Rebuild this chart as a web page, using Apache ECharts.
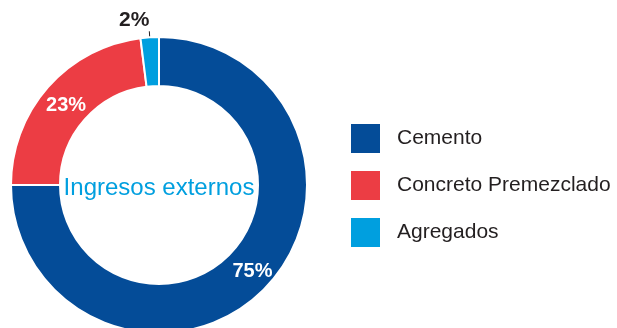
<!DOCTYPE html>
<html><head><meta charset="utf-8">
<script src="https://cdn.jsdelivr.net/npm/echarts@6/dist/echarts.min.js"></script>
<style>html,body{margin:0;padding:0;background:#fff}#c{width:617px;height:328px}</style>
</head><body><div id="c"></div>
<script>
const categories = ['Cemento', 'Concreto Premezclado', 'Agregados'];
const values = [75, 23, 2];
const colors = ['#044c98', '#ec3d44', '#009fdf'];
const centerTitle = 'Ingresos externos';

const chart = echarts.init(document.getElementById('c'), null, {renderer: 'canvas'});
const data = categories.map((n, i) => {
  const d = {name: n, value: values[i], itemStyle: {color: colors[i]}};
  if (i === 2) {
    d.label = {position: 'outside', color: '#231f20', fontSize: 21};
    d.labelLine = {show: true, length: 6, length2: 0, lineStyle: {color: '#231f20', width: 1}};
  }
  return d;
});
chart.setOption({
  animation: false,
  legend: {
    orient: 'vertical', left: 349, top: 122, padding: 0,
    itemWidth: 31, itemHeight: 31, itemGap: 14,
    icon: 'rect',
    textStyle: {fontFamily: 'Liberation Sans, Arial, sans-serif', fontSize: 21, lineHeight: 31, color: '#231f20', padding: [0, 0, 0, 11]},
    data: categories
  },
  title: {
    text: centerTitle, left: 159, top: 188, textAlign: 'center', textVerticalAlign: 'middle', padding: 0,
    textStyle: {fontFamily: 'Liberation Sans, Arial, sans-serif', fontSize: 24, fontWeight: 'normal', color: '#009fdf'}
  },
  series: [{
    type: 'pie',
    center: [159, 185],
    radius: [99, 148],
    startAngle: 90,
    clockwise: true,
    avoidLabelOverlap: false,
    itemStyle: {borderColor: '#fff', borderWidth: 2},
    label: {
      show: true, position: 'inside', formatter: '{c}%',
      fontFamily: 'Liberation Sans, Arial, sans-serif', fontSize: 20, fontWeight: 'bold', color: '#fff'
    },
    labelLine: {show: false},
    labelLayout: function (p) {
      if (p.dataIndex === 2) return {dy: -11, dx: 5};
      if (p.dataIndex === 0) return {dx: 4, dy: -3};
      if (p.dataIndex === 1) return {dx: 2, dy: 4};
      return {};
    },
    data: data
  }]
});
</script></body></html>
